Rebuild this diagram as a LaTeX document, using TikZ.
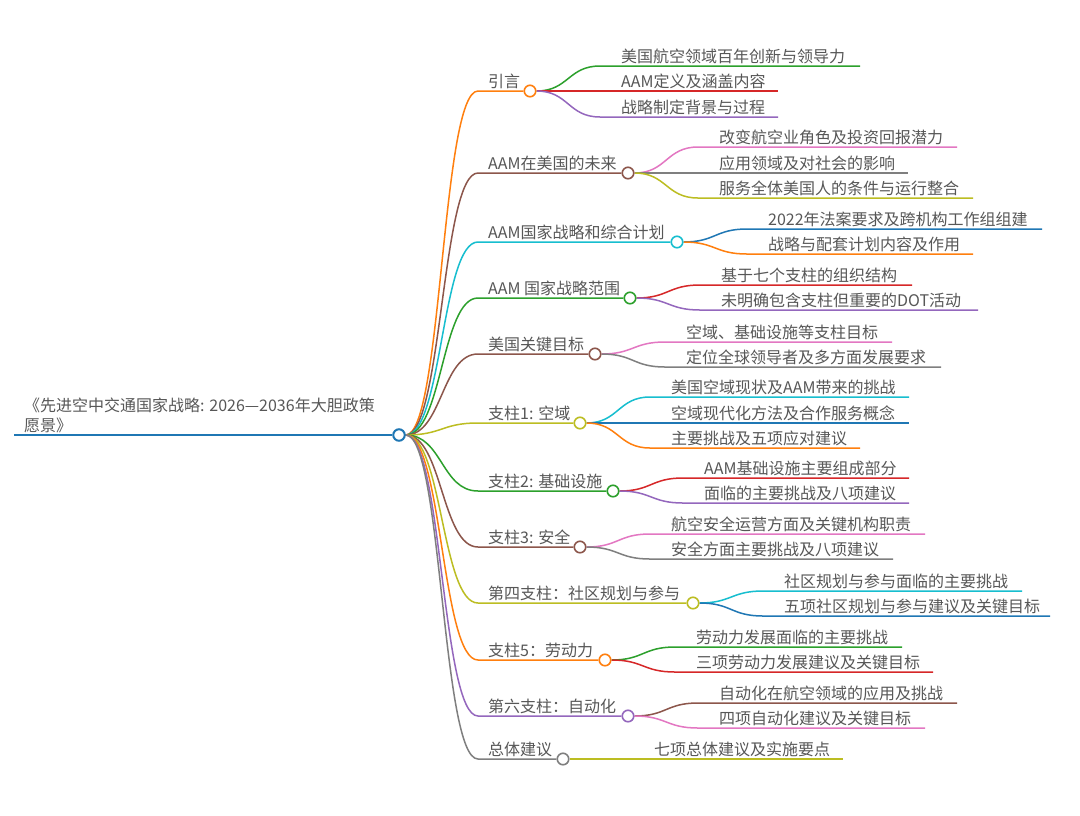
\documentclass[tikz,border=0pt]{standalone}
\usepackage{fontspec}
\setmainfont{Noto Sans CJK SC}
\usetikzlibrary{backgrounds}
\definecolor{cblue}{HTML}{1F77B4}
\definecolor{corange}{HTML}{FF7F0E}
\definecolor{cgreen}{HTML}{2CA02C}
\definecolor{cred}{HTML}{D62728}
\definecolor{cpurple}{HTML}{9467BD}
\definecolor{cbrown}{HTML}{8C564B}
\definecolor{cpink}{HTML}{E377C2}
\definecolor{cgray}{HTML}{7F7F7F}
\definecolor{colive}{HTML}{BCBD22}
\definecolor{ccyan}{HTML}{17BECF}
\tikzset{
  txt/.style={anchor=base west, inner sep=0pt, text=black!66, font=\fontsize{16}{20.5}\selectfont},
  dot/.style={circle, draw=#1, fill=white, line width=1.6pt, minimum size=11.5pt, inner sep=0pt},
  link/.style={line width=1.5pt, draw=#1},
}
\newcommand{\mmtop}[5]{%
  \node[dot=#4] (#1) at (#2,#3) {};
  \node[txt] (#1t) at (488,#3-4) {#5};
  \coordinate (#1a) at (478,#3);
  \begin{pgfonlayer}{background}
  \draw[link=#4] (root.east) .. controls +(36.5,0) and +(-36.5,0) .. (#1a) -- (#1.west);
  \end{pgfonlayer}
}
\newcommand{\mmkid}[7]{%
  \node[txt] (#3) at (#2+91,#4-4) {#7};
  \coordinate (#3a) at (#2+70,#4);
  \coordinate (#3b) at (#5,#4);
  \begin{pgfonlayer}{background}
  \draw[link=#6] (#1.east) .. controls +(32,0) and +(-32,0) .. (#3a) -- (#3b);
  \end{pgfonlayer}
}
\begin{document}
\begin{tikzpicture}[x=1pt,y=-1pt]
\begin{pgfonlayer}{background}
\fill[white] (0,0) rectangle (1080,815);
\end{pgfonlayer}
\useasboundingbox (0,0) rectangle (1080,815);
% root
\node[dot=cblue, line width=2pt] (root) at (399,435) {};
\node[txt, align=left] (roott) at (24,431.5) {《先进空中交通国家战略: 2026—2036年大胆政策\\愿景》};
\coordinate (rootl) at (14,435);
\begin{pgfonlayer}{background}
\draw[link=cblue, line width=2pt] (rootl) -- (root.west);
\end{pgfonlayer}
% level 1
\mmtop{p1}{530}{91}{corange}{引言}
\mmtop{p2}{628}{173}{cbrown}{AAM在美国的未来}
\mmtop{p3}{677}{242}{ccyan}{AAM国家战略和综合计划}
\mmtop{p4}{630}{298}{cgreen}{AAM 国家战略范围}
\mmtop{p5}{595}{354}{cbrown}{美国关键目标}
\mmtop{p6}{580}{423}{colive}{支柱1: 空域}
\mmtop{p7}{613}{491}{cgreen}{支柱2: 基础设施}
\mmtop{p8}{580}{547}{cbrown}{支柱3: 安全}
\mmtop{p9}{693}{603}{colive}{第四支柱：社区规划与参与}
\mmtop{p10}{605}{660}{corange}{支柱5：劳动力}
\mmtop{p11}{628}{716}{cpurple}{第六支柱：自动化}
\mmtop{p12}{563}{759}{cgray}{总体建议}
% level 2
\mmkid{p1}{530}{k11}{66}{860}{cgreen}{美国航空领域百年创新与领导力}
\mmkid{p1}{530}{k12}{91}{778}{cred}{AAM定义及涵盖内容}
\mmkid{p1}{530}{k13}{117}{778}{cpurple}{战略制定背景与过程}
\mmkid{p2}{628}{k21}{147}{957}{cpink}{改变航空业角色及投资回报潜力}
\mmkid{p2}{628}{k22}{173}{908}{cgray}{应用领域及对社会的影响}
\mmkid{p2}{628}{k23}{198}{973}{colive}{服务全体美国人的条件与运行整合}
\mmkid{p3}{677}{k31}{229}{1042}{cblue}{2022年法案要求及跨机构工作组组建}
\mmkid{p3}{677}{k32}{254}{973}{corange}{战略与配套计划内容及作用}
\mmkid{p4}{630}{k41}{285}{912}{cred}{基于七个支柱的组织结构}
\mmkid{p4}{630}{k42}{310}{978}{cpurple}{未明确包含支柱但重要的DOT活动}
\mmkid{p5}{595}{k51}{342}{892}{cpink}{空域、基础设施等支柱目标}
\mmkid{p5}{595}{k52}{367}{941}{cgray}{定位全球领导者及多方面发展要求}
\mmkid{p6}{580}{k61}{397}{909}{ccyan}{美国空域现状及AAM带来的挑战}
\mmkid{p6}{580}{k62}{423}{909}{cblue}{空域现代化方法及合作服务概念}
\mmkid{p6}{580}{k63}{448}{860}{corange}{主要挑战及五项应对建议}
\mmkid{p7}{613}{k71}{478}{909}{cred}{AAM基础设施主要组成部分}
\mmkid{p7}{613}{k72}{503}{909}{cpurple}{面临的主要挑战及八项建议}
\mmkid{p8}{580}{k81}{534}{925}{cpink}{航空安全运营方面及关键机构职责}
\mmkid{p8}{580}{k82}{559}{893}{cgray}{安全方面主要挑战及八项建议}
\mmkid{p9}{693}{k91}{591}{1022}{ccyan}{社区规划与参与面临的主要挑战}
\mmkid{p9}{693}{k92}{616}{1050}{cblue}{五项社区规划与参与建议及关键目标}
\mmkid{p10}{605}{k101}{647}{902}{cgreen}{劳动力发展面临的主要挑战}
\mmkid{p10}{605}{k102}{672}{933}{cred}{三项劳动力发展建议及关键目标}
\mmkid{p11}{628}{k111}{703}{957}{cbrown}{自动化在航空领域的应用及挑战}
\mmkid{p11}{628}{k112}{728}{925}{cpink}{四项自动化建议及关键目标}
\mmkid{p12}{563}{k121}{759}{843}{colive}{七项总体建议及实施要点}
\end{tikzpicture}
\end{document}
